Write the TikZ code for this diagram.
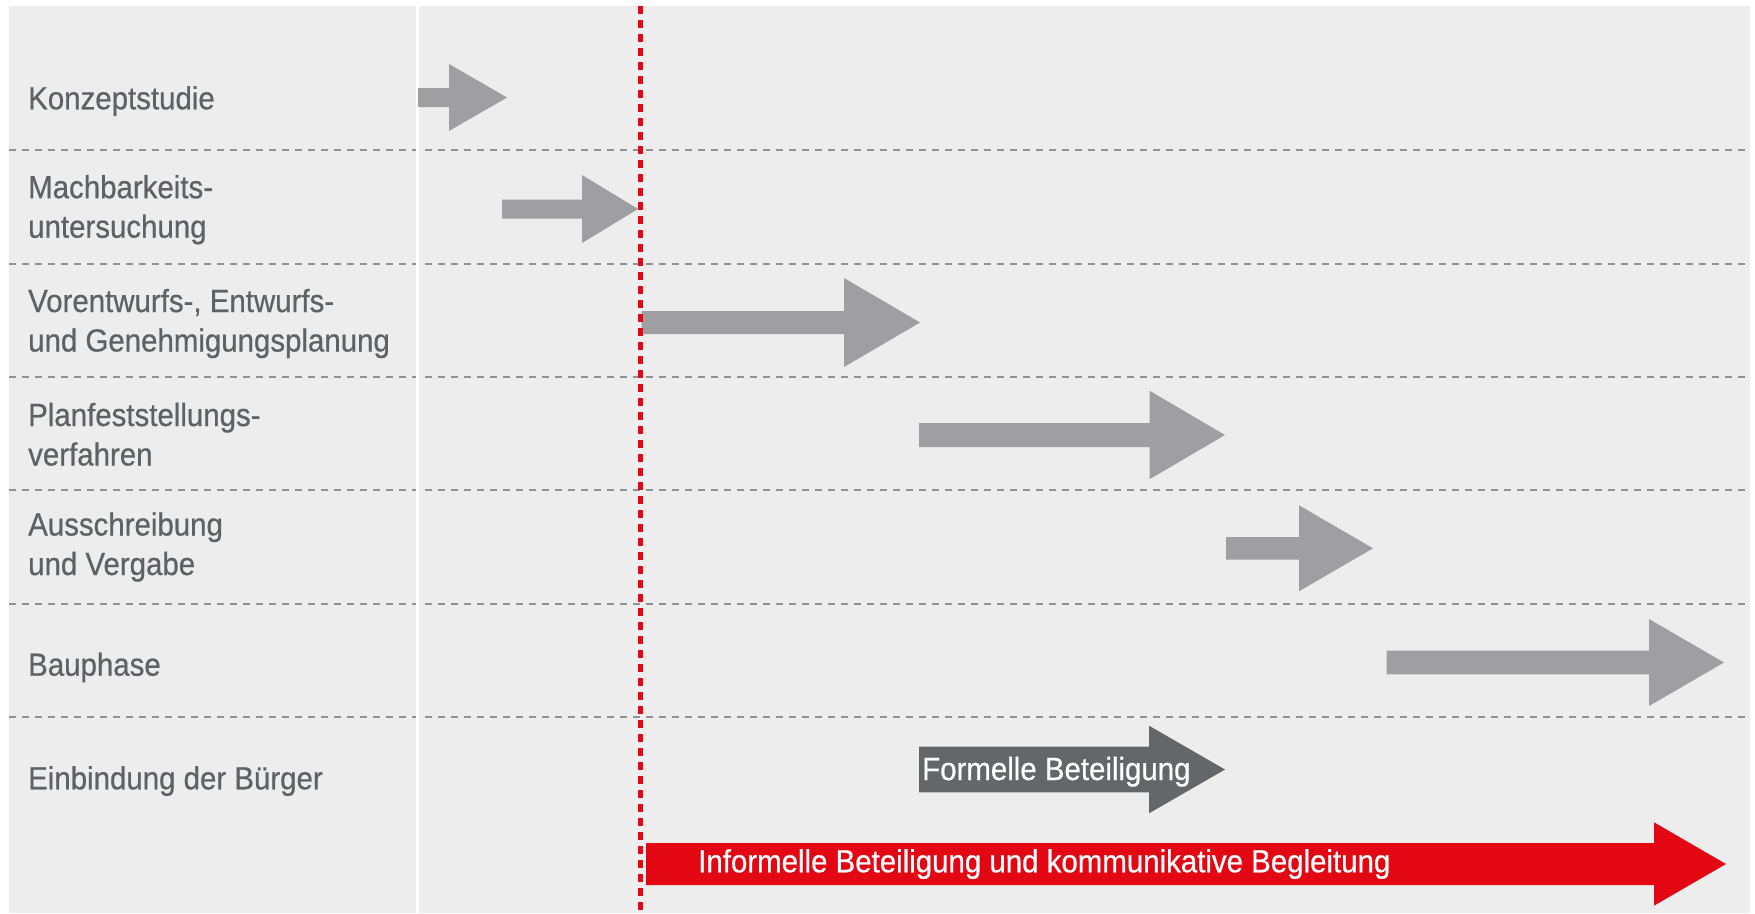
\documentclass[tikz,border=0pt]{standalone}
\usepackage{fontspec}
\setmainfont{Liberation Sans}[FakeStretch=0.92,FakeBold=0.6]
\definecolor{bgc}{HTML}{EDEDED}
\definecolor{txtc}{HTML}{5E6265}
\definecolor{arrc}{HTML}{9F9FA1}
\definecolor{darrc}{HTML}{63676A}
\definecolor{redc}{HTML}{E30613}
\definecolor{dshc}{HTML}{929292}
% #1 colour, #2 start x, #3 head base x, #4 tip x, #5 centre y, #6 shaft half, #7 head half
\newcommand{\blockarrow}[7]{%
  \fill[#1] (#2,#5-#6) -- (#3,#5-#6) -- (#3,#5-#7) -- (#4,#5) -- (#3,#5+#7) -- (#3,#5+#6) -- (#2,#5+#6) -- cycle;}
\begin{document}
\begin{tikzpicture}[x=1pt,y=-1pt,
  lbl/.style={font=\fontsize{32}{39.5}\selectfont, text=txtc, align=left, anchor=base west, inner sep=0pt},
  inlbl/.style={font=\fontsize{32}{36}\selectfont, text=white, anchor=base west, inner sep=0pt},
  rowline/.style={draw=dshc, line width=2.5pt, dash pattern=on 7pt off 6pt}]
\useasboundingbox (0,0) rectangle (1755,913);
\fill[white] (0,0) rectangle (1755,913);
\fill[bgc] (9,6) rectangle (1750,913);
% row separators
\foreach \yy [count=\i] in {150,264,377,490,604,717}{
  \coordinate (la\i) at (9,\yy);
  \coordinate (lb\i) at (1750,\yy);
  \draw[rowline] (la\i) -- (lb\i);
}
% white column separator
\coordinate (wtop) at (417,6);
\coordinate (wbot) at (417,913);
\draw[white, line width=3pt] (wtop) -- (wbot);
% labels (multi-line nodes sit on the baseline of their last line)
\node[lbl] (t1) at (28,109.3) {Konzeptstudie};
\node[lbl] (t2) at (28,237.7) {Machbarkeits-\\untersuchung};
\node[lbl] (t3) at (28,351.5) {Vorentwurfs-, Entwurfs-\\und Genehmigungsplanung};
\node[lbl] (t4) at (28,465.5) {Planfeststellungs-\\verfahren};
\node[lbl] (t5) at (28,575) {Ausschreibung\\und Vergabe};
\node[lbl] (t6) at (28,675.7) {Bauphase};
\node[lbl] (t7) at (28,789.3) {Einbindung der Bürger};
% phase arrows
\blockarrow{arrc}{418}{449}{507}{97.5}{9.5}{33.5}
\blockarrow{arrc}{502}{582}{638}{209}{9.5}{34}
\blockarrow{arrc}{641.5}{844}{920}{322.5}{11.5}{44.5}
\blockarrow{arrc}{919}{1149.5}{1225}{435}{12}{44.3}
\blockarrow{arrc}{1226}{1299}{1373}{548.3}{11.3}{43}
\blockarrow{arrc}{1386.5}{1649}{1724}{662.5}{11.8}{43.5}
% participation arrows
\blockarrow{darrc}{919}{1149}{1225}{769.5}{22.8}{43.8}
\node[inlbl] (f1) at (922,780) {Formelle Beteiligung};
\blockarrow{redc}{646}{1654}{1726}{864}{21}{41.7}
\node[inlbl] (f2) at (698,872.3) {Informelle Beteiligung und kommunikative Begleitung};
% red dotted milestone line
\coordinate (rtop) at (640.5,6);
\coordinate (rbot) at (640.5,913);
\draw[redc, line width=4.5pt, dash pattern=on 8pt off 6pt] (rtop) -- (rbot);
\end{tikzpicture}
\end{document}
